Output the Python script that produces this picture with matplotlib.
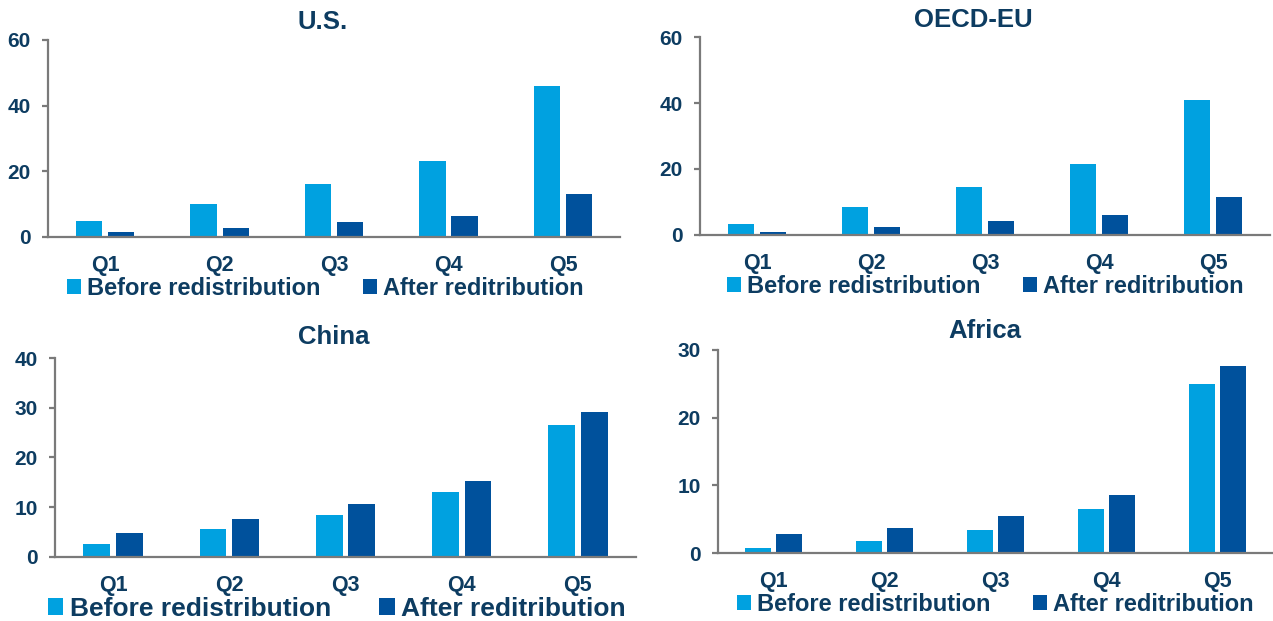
import matplotlib
matplotlib.use("Agg")
import matplotlib.pyplot as plt
import numpy as np

plt.rcParams['font.family'] = ['Liberation Sans', 'DejaVu Sans']
plt.rcParams['font.weight'] = 'bold'

quintiles = ["Q1", "Q2", "Q3", "Q4", "Q5"]
series_names = ["Before redistribution", "After reditribution"]

us_before = [5.0, 10.0, 16.0, 23.0, 46.0]
us_after = [1.5, 2.8, 4.5, 6.5, 13.0]

eu_before = [3.4, 8.6, 14.4, 21.5, 41.0]
eu_after = [1.0, 2.4, 4.1, 6.0, 11.6]

china_before = [2.7, 5.6, 8.4, 13.0, 26.5]
china_after = [4.8, 7.7, 10.6, 15.2, 29.1]

africa_before = [0.8, 1.7, 3.4, 6.5, 25.0]
africa_after = [2.8, 3.7, 5.5, 8.6, 27.6]

LIGHT = "#00A1E0"
DARK = "#00519C"
NAVY = "#0D3C61"
GREY = "#7A7A7A"

fig = plt.figure(figsize=(12.73, 6.21), dpi=100)


def panel(rect, title, before, after, ymax, step, legend_size, title_y,
          legend_x=0.485, legend_y=-0.26):
    ax = fig.add_axes(rect)
    x = np.arange(len(quintiles))
    w = 0.23
    ax.bar(x - 0.14, before, w, color=LIGHT, label=series_names[0])
    ax.bar(x + 0.14, after, w, color=DARK, label=series_names[1])
    ax.set_xlim(-0.5, len(quintiles) - 0.5)
    ax.set_ylim(0, ymax)
    ax.set_yticks(np.arange(0, ymax + 0.1, step))
    ax.set_xticks(x)
    ax.set_xticklabels(quintiles)
    for s in ("top", "right"):
        ax.spines[s].set_visible(False)
    for s in ("left", "bottom"):
        ax.spines[s].set_color(GREY)
        ax.spines[s].set_linewidth(1.6)
    ax.tick_params(axis="y", length=4.5, width=1.6, color=GREY, pad=8,
                   labelsize=15, labelcolor=NAVY)
    ax.tick_params(axis="x", length=0, pad=13, labelsize=15.5, labelcolor=NAVY)
    for lab in ax.get_xticklabels() + ax.get_yticklabels():
        lab.set_fontweight("bold")
    ax.text(0.48, title_y, title, transform=ax.transAxes, ha="center",
            va="center", fontsize=18.5, fontweight="bold", color=NAVY)
    ax.legend(loc="center", bbox_to_anchor=(legend_x, legend_y), ncol=2,
              frameon=False, handlelength=0.6, handleheight=0.6,
              handletextpad=0.25, columnspacing=1.8, borderaxespad=0,
              prop={"size": legend_size, "weight": "bold"}, labelcolor=NAVY)
    return ax


panel([0.0377, 0.6184, 0.4495, 0.3172], "U.S.", us_before, us_after,
      60, 20, 17, 1.09)
panel([0.5499, 0.6216, 0.4477, 0.3188], "OECD-EU", eu_before, eu_after,
      60, 20, 17, 1.085, legend_x=0.5)
panel([0.0432, 0.1031, 0.4564, 0.3204], "China", china_before, china_after,
      40, 10, 19, 1.105)
panel([0.5640, 0.1095, 0.4360, 0.3269], "Africa", africa_before, africa_after,
      30, 10, 17, 1.095, legend_x=0.5, legend_y=-0.255)

fig.savefig("out.png", dpi=100)
